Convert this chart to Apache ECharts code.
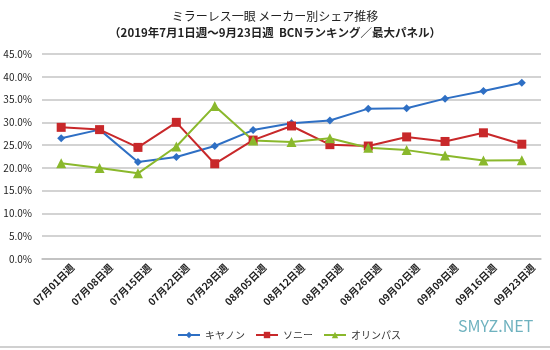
<!DOCTYPE html>
<html>
<head>
<meta charset="utf-8">
<script src="https://cdn.jsdelivr.net/npm/echarts@6/dist/echarts.min.js"></script>
<style>
  html, body { margin: 0; padding: 0; background: #fff; }
  #chart { width: 550px; height: 350px; }
</style>
</head>
<body>
<div id="chart"></div>
<script>
const weeks = [
  "07月01日週", "07月08日週", "07月15日週", "07月22日週", "07月29日週",
  "08月05日週", "08月12日週", "08月19日週", "08月26日週", "09月02日週",
  "09月09日週", "09月16日週", "09月23日週"
];
const canon = [26.5, 28.4, 21.3, 22.4, 24.8, 28.3, 29.8, 30.4, 33.0, 33.1, 35.2, 36.9, 38.7];
const sony = [28.9, 28.4, 24.5, 30.0, 20.9, 26.1, 29.2, 25.1, 24.8, 26.8, 25.8, 27.7, 25.2];
const olympus = [21.0, 20.0, 18.8, 24.7, 33.6, 26.0, 25.7, 26.5, 24.4, 23.9, 22.7, 21.6, 21.7];

const font = '"Noto Sans CJK JP", "Noto Sans", sans-serif';

const makeSeries = (name, data, color, symbol, size) => ({
  name,
  type: "line",
  data,
  symbol,
  symbolSize: size,
  showAllSymbol: true,
  lineStyle: { width: 2, color },
  itemStyle: { color },
  z: 3,
});

const chart = echarts.init(document.getElementById("chart"));
chart.setOption({
  animation: false,
  backgroundColor: "#fff",
  textStyle: { fontFamily: font },
  title: {
    text: "ミラーレス一眼 メーカー別シェア推移",
    subtext: "（2019年7月1日週～9月23日週  BCNランキング／最大パネル）",
    left: "center",
    top: 5,
    itemGap: 5,
    textStyle: { fontSize: 12, fontWeight: "normal", color: "#222", fontFamily: font },
    subtextStyle: { fontSize: 11.5, fontWeight: "bold", color: "#222", fontFamily: font },
  },
  legend: {
    top: 325,
    left: 172,
    itemWidth: 22,
    itemHeight: 8,
    itemGap: 10,
    textStyle: { fontSize: 10, color: "#333", fontFamily: font },
    data: ["キヤノン", "ソニー", "オリンパス"],
  },
  grid: { left: 42, right: 9, top: 54, bottom: 91, containLabel: false },
  xAxis: {
    type: "category",
    data: weeks,
    boundaryGap: true,
    axisLine: { lineStyle: { color: "#bfbfbf", width: 1.5 } },
    axisTick: { show: false },
    axisLabel: {
      rotate: 45,
      interval: 0,
      fontSize: 10,
      fontWeight: "bold",
      color: "#222",
      margin: 18,
      padding: [0, -16, 0, 0],
      fontFamily: font,
    },
  },
  yAxis: {
    type: "value",
    min: 0,
    max: 45,
    interval: 5,
    axisLine: { show: false },
    axisTick: { show: false },
    splitLine: { lineStyle: { color: "#c4c4c4", width: 1.5 } },
    axisLabel: {
      fontSize: 10,
      color: "#222",
      margin: 10,
      fontFamily: font,
      formatter: (v) => v.toFixed(1) + "%",
    },
  },
  series: [
    makeSeries("キヤノン", canon, "#2e6fc4", "diamond", 8),
    makeSeries("ソニー", sony, "#c8282a", "rect", 9),
    makeSeries("オリンパス", olympus, "#8ab82c", "triangle", 10),
  ],
  graphic: [
    {
      type: "text",
      left: 458,
      top: 318,
      style: { text: "SMYZ.NET", fontSize: 16, fill: "#6fb2bf", fontFamily: font },
    },
    {
      type: "rect",
      shape: { x: 0, y: 346, width: 550, height: 2 },
      style: { fill: "#d0d0d0" },
    },
  ],
});
</script>
</body>
</html>
